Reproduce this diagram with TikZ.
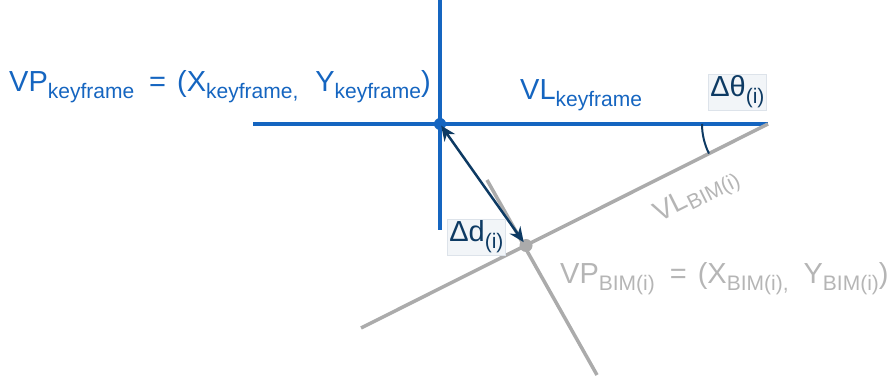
\documentclass[tikz,border=0pt]{standalone}
\usepackage{fontspec}
\setmainfont{Liberation Sans}
\usetikzlibrary{arrows.meta}
\definecolor{kfblue}{HTML}{1565C0}
\definecolor{navy}{HTML}{0D3A63}
\definecolor{bimgray}{HTML}{ABABAB}
\definecolor{bimtext}{HTML}{B5B5B5}
\definecolor{boxfill}{HTML}{F2F5F8}
\definecolor{boxline}{HTML}{DDE3EA}
\newcommand{\sbs}[1]{\raisebox{-7pt}{\fontsize{21}{21}\selectfont #1}}
\newcommand{\eqpart}{\hspace{15pt}=\hspace{11pt}}
\begin{document}
\begin{tikzpicture}[x=1pt,y=1pt,
  blueline/.style={draw=kfblue,line width=3.5pt},
  grayline/.style={draw=bimgray,line width=3.5pt},
  lbl/.style={inner sep=0pt,font=\fontsize{29}{32}\selectfont},
  dbox/.style={fill=boxfill,draw=boxline,line width=0.6pt,inner sep=2pt,text=navy,font=\fontsize{29}{32}\selectfont}]
\useasboundingbox (0,0) rectangle (891,380);
% coordinates
\coordinate (vtop) at (440,380);
\coordinate (vbot) at (440,150);
\coordinate (hl) at (253,256);
\coordinate (hr) at (768,256);
\coordinate (P) at (440,256);
\coordinate (gl) at (361,52);
\coordinate (Q) at (526,134.5);
\coordinate (ptop) at (487,200);
\coordinate (pbot) at (597,5);
% blue lines
\draw[blueline] (vtop) -- (vbot);
\draw[blueline] (hl) -- (hr);
% gray lines
\draw[grayline] (hr) -- (gl);
\draw[grayline] (ptop) -- (pbot);
% angle arc
\draw[navy,line width=2pt] ([shift={(180:66)}]hr) arc[start angle=180,end angle=206.6,radius=66];
% dots
\fill[kfblue] (P) circle (6);
\fill[bimgray] (Q) circle (6.5);
% arrow
\draw[navy,line width=2.5pt,{Stealth[length=15pt,width=13pt]}-{Stealth[length=15pt,width=13pt]},shorten <=2pt,shorten >=4pt] (P) -- (Q);
% labels
\node[lbl,text=kfblue,anchor=base west] (vpk) at (9,288) {VP\sbs{keyframe}\eqpart(X\sbs{keyframe,}\hspace{17pt}Y\sbs{keyframe})};
\node[lbl,text=kfblue,anchor=base west] (vlk) at (520,280) {VL\sbs{keyframe}};
\node[dbox,anchor=base west] (dth) at (708,283) {Δθ\sbs{(i)}};
\node[dbox,anchor=base west] (dd) at (447,138) {Δd\sbs{(i)}};
\node[lbl,text=bimtext,rotate=26.6,font=\fontsize{28}{30}\selectfont] (vlb) at (697,183) {VL\raisebox{-4pt}{\fontsize{21}{21}\selectfont BIM(i)}};
\node[lbl,text=bimtext,anchor=base west] (vpb) at (560,96) {VP\sbs{BIM(i)}\eqpart(X\sbs{BIM(i),}\hspace{15pt}Y\sbs{BIM(i)})};
\end{tikzpicture}
\end{document}
